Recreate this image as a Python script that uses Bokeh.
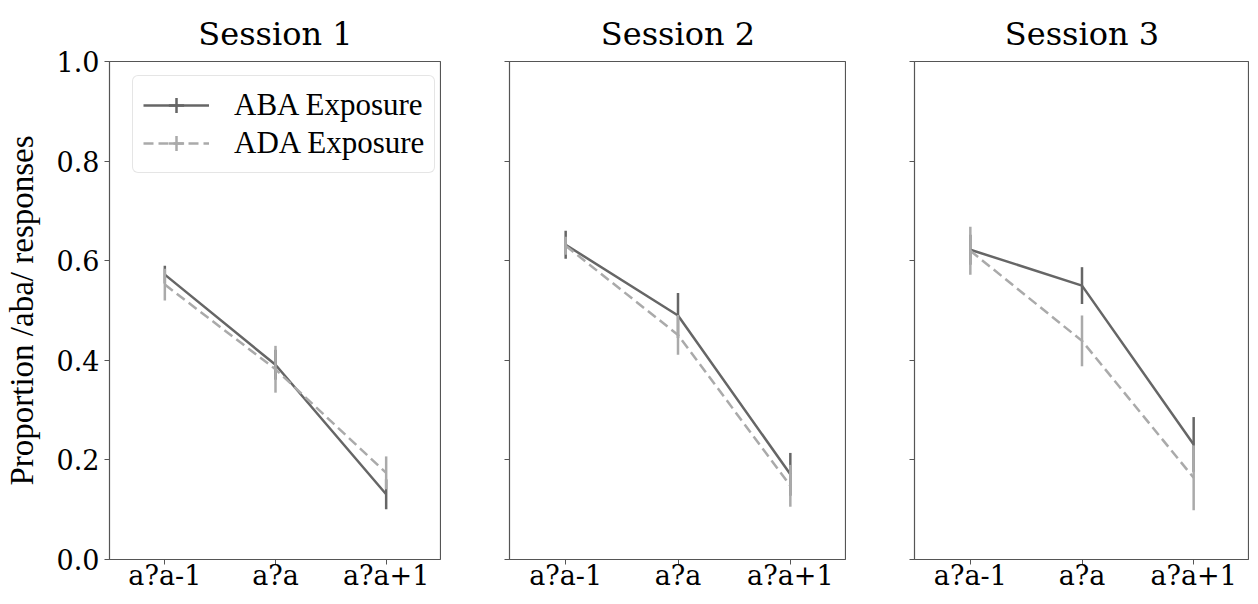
from bokeh.plotting import figure
from bokeh.models import (ColumnDataSource, FactorRange, Range1d, FixedTicker,
                          PrintfTickFormatter, CustomJSTickFormatter, Legend, LegendItem)
from bokeh.layouts import row
from bokeh.embed import file_html
from bokeh.resources import INLINE

# ---------------- data ----------------
categories = ["a?a-1", "a?a", "a?a+1"]
sessions = ["Session 1", "Session 2", "Session 3"]
y_ticks = [0.0, 0.2, 0.4, 0.6, 0.8, 1.0]

aba_mean_s1 = [0.572, 0.391, 0.131]
aba_err_s1 = [0.018, 0.030, 0.030]
ada_mean_s1 = [0.552, 0.382, 0.174]
ada_err_s1 = [0.032, 0.047, 0.033]

aba_mean_s2 = [0.632, 0.490, 0.171]
aba_err_s2 = [0.028, 0.045, 0.043]
ada_mean_s2 = [0.630, 0.451, 0.148]
ada_err_s2 = [0.018, 0.040, 0.042]

aba_mean_s3 = [0.622, 0.550, 0.231]
aba_err_s3 = [0.030, 0.037, 0.055]
ada_mean_s3 = [0.620, 0.439, 0.164]
ada_err_s3 = [0.048, 0.051, 0.065]

series_labels = ["ABA Exposure", "ADA Exposure"]

# ---------------- styling ----------------
FONT = "'Liberation Serif', 'Times New Roman', Times, 'DejaVu Serif', serif"
BOX_FONT = "DejaVu Serif"
ABA_COLOR = "#666666"
ADA_COLOR = "#aaaaaa"
LW = 2.5
FIG_H = 593


def src(means, errs):
    return ColumnDataSource(data=dict(
        cat=categories,
        m=means,
        lo=[m - e for m, e in zip(means, errs)],
        hi=[m + e for m, e in zip(means, errs)],
    ))


def make_panel(idx, aba_m, aba_e, ada_m, ada_e, width, border_left, first):
    p = figure(x_range=FactorRange(factors=categories, range_padding=0),
               y_range=Range1d(0, 1),
               width=width, height=FIG_H,
               output_backend="svg", toolbar_location=None,
               min_border_left=border_left, min_border_right=0,
               min_border_top=61, min_border_bottom=0,
               title=sessions[idx])
    p.title.align = "center"
    p.title.text_font = BOX_FONT
    p.title.text_font_size = "32px"
    p.title.text_font_style = "normal"
    p.title.text_color = "black"
    p.title.standoff = 18

    p.grid.visible = False
    p.outline_line_color = "#555555"
    p.outline_line_width = 1.2
    p.background_fill_color = "white"
    p.border_fill_color = "white"

    for ax in (p.xaxis[0], p.yaxis[0]):
        ax.axis_line_color = None
        ax.major_tick_out = 5
        ax.major_tick_in = 0
        ax.major_tick_line_color = "#555555"
        ax.major_tick_line_width = 1
        ax.minor_tick_line_color = None
        ax.major_label_text_font = BOX_FONT
        ax.major_label_text_font_size = "27px"
        ax.major_label_text_color = "black"

    p.xaxis.major_label_standoff = -5
    p.yaxis.ticker = FixedTicker(ticks=y_ticks)
    p.yaxis.major_label_standoff = 5
    if first:
        p.yaxis.formatter = PrintfTickFormatter(format="%.1f")
        p.yaxis.axis_label = "Proportion /aba/ responses"
        p.yaxis.axis_label_text_font = FONT
        p.yaxis.axis_label_text_font_size = "33px"
        p.yaxis.axis_label_text_font_style = "normal"
        p.yaxis.axis_label_text_color = "black"
        p.yaxis.axis_label_standoff = 14
    else:
        p.yaxis.formatter = CustomJSTickFormatter(code="return ''")

    s_aba = src(aba_m, aba_e)
    s_ada = src(ada_m, ada_e)

    l_aba = p.line(x="cat", y="m", source=s_aba, line_color=ABA_COLOR,
                   line_width=LW, line_join="round")
    p.segment(x0="cat", y0="lo", x1="cat", y1="hi", source=s_aba,
              line_color=ABA_COLOR, line_width=LW)
    l_ada = p.line(x="cat", y="m", source=s_ada, line_color=ADA_COLOR,
                   line_width=LW, line_dash="10 5", line_join="round")
    p.segment(x0="cat", y0="lo", x1="cat", y1="hi", source=s_ada,
              line_color=ADA_COLOR, line_width=LW)

    if first:
        c_aba = p.scatter(x="cat", y="m", source=s_aba, marker="cross", size=0,
                          line_color=ABA_COLOR, line_width=LW)
        c_ada = p.scatter(x="cat", y="m", source=s_ada, marker="cross", size=0,
                          line_color=ADA_COLOR, line_width=LW)
        legend = Legend(items=[
            LegendItem(label=series_labels[0], renderers=[l_aba, c_aba]),
            LegendItem(label=series_labels[1], renderers=[l_ada, c_ada]),
        ])
        legend.location = (23, 386)
        legend.glyph_width = 66
        legend.glyph_height = 38
        legend.label_height = 38
        legend.spacing = 0
        legend.padding = 10
        legend.label_standoff = 25
        legend.label_text_font = FONT
        legend.label_text_font_size = "31px"
        legend.label_text_color = "black"
        legend.border_line_color = "#cccccc"
        legend.border_line_width = 1
        legend.border_radius = 6
        legend.background_fill_color = "white"
        legend.background_fill_alpha = 0.8
        p.add_layout(legend)
    return p


p1 = make_panel(0, aba_mean_s1, aba_err_s1, ada_mean_s1, ada_err_s1, 441, 104, True)
p2 = make_panel(1, aba_mean_s2, aba_err_s2, ada_mean_s2, ada_err_s2, 405, 68, False)
p3 = make_panel(2, aba_mean_s3, aba_err_s3, ada_mean_s3, ada_err_s3, 403, 68, False)

layout = row(p1, p2, p3)
open("out.html", "w").write(file_html(layout, INLINE))
